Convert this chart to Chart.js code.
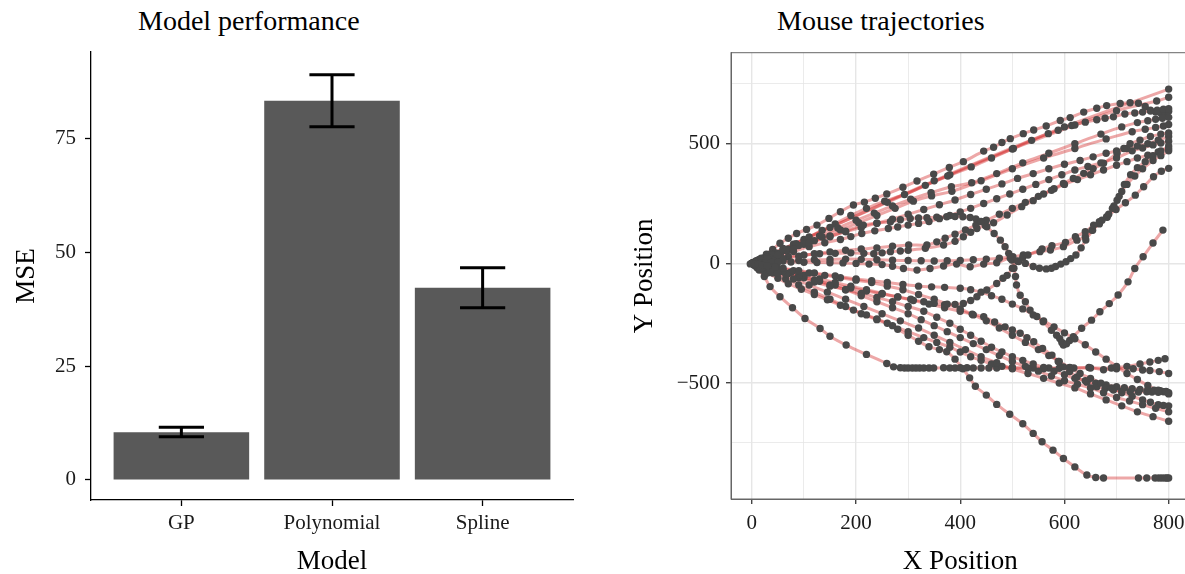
<!DOCTYPE html>
<html>
<head>
<meta charset="utf-8">
<script src="https://cdn.jsdelivr.net/npm/chart.js@4.4.1/dist/chart.umd.min.js"></script>
<style>
  body { margin: 0; width: 1185px; height: 574px; overflow: hidden; background: #fff; position: relative; }
  canvas { position: absolute; top: 0; }
  .ttl { position: absolute; top: 7px; font: 28px "Liberation Serif", serif; line-height: 28px; color: #000; white-space: nowrap; }
</style>
</head>
<body>
<div class="ttl" style="left:138px">Model performance</div>
<div class="ttl" style="left:777px">Mouse trajectories</div>
<canvas id="bars" width="600" height="600" style="left:0"></canvas>
<canvas id="traj" width="600" height="600" style="left:600px"></canvas>
<script>
// ---- left panel data ----
const models = ["GP", "Polynomial", "Spline"];
const mse = [10.5, 83.3, 42.2];
const mseLow = [9.5, 77.6, 37.8];
const mseHigh = [11.6, 89.0, 46.6];
const mseTicks = [0, 25, 50, 75];

// ---- right panel data (x, y pairs) ----
const xTickValues = [0, 100, 200, 300, 400, 500, 600, 700, 800];
const xMajor = [0, 200, 400, 600, 800];
const yTickValues = [-750, -500, -250, 0, 250, 500, 750];
const yMajor = [-500, 0, 500];

const traj01 = [[0,0],[2,3],[4,4],[7,9],[10,12],[14,17],[18,22],[28,38],[40,58],[54,84],[70,105],[86,125],[105,142],[125,160],[148,188],[170,216],[195,244],[216,256],[237,272],[259,290],[290,318],[317,344],[349,373],[379,401],[406,425],[445,469],[464,485],[480,505],[496,521],[521,542],[541,557],[565,574],[592,597],[611,609],[637,632],[662,648],[681,659],[707,668],[726,671],[742,669],[755,655],[765,640],[775,632],[785,628],[793,630],[800,635]];
const traj02 = [[0,0],[5,3],[12,10],[22,22],[35,38],[60,62],[100,100],[350,345],[600,570],[800,728]];
const traj03 = [[0,0],[3,2],[6,5],[14,12],[25,24],[45,44],[80,80],[150,150],[260,255],[380,370],[500,478],[620,578],[700,638],[777,678],[800,694]];
const traj04 = [[0,0],[5,3],[12,9],[25,20],[42,38],[60,55],[85,82],[110,110],[135,138],[160,165],[190,200],[220,230],[255,260],[293,288],[333,326],[376,365],[421,403],[460,440],[502,480],[537,514],[569,542],[588,556],[614,576],[640,590],[662,600],[678,606],[694,612],[716,624],[735,628],[750,632],[765,636],[778,640],[790,644],[800,646]];
const traj05 = [[0,0],[3,2],[6,4],[10,7],[14,10],[22,18],[30,25],[50,42],[70,60],[100,88],[130,115],[165,148],[200,180],[235,210],[270,240],[305,268],[344,295],[383,320],[422,337],[470,375],[520,420],[570,460],[620,500],[670,540],[710,570],[740,588],[760,596],[775,602],[788,606],[800,610]];
const traj06 = [[0,0],[4,3],[8,5],[14,10],[20,14],[30,22],[40,30],[55,42],[70,55],[100,80],[135,110],[170,140],[205,170],[240,200],[275,230],[310,260],[345,282],[384,301],[440,345],[500,395],[560,440],[620,480],[680,520],[730,550],[755,560],[775,568],[790,574],[800,580]];
const traj07 = [[0,0],[3,2],[8,6],[13,11],[20,18],[30,27],[40,35],[65,55],[90,75],[120,95],[150,115],[180,132],[210,150],[240,168],[270,185],[300,205],[330,225],[360,245],[390,265],[420,288],[450,310],[480,332],[510,355],[540,375],[570,395],[600,414],[630,430],[655,445],[680,460],[700,470],[720,480],[740,490],[760,500],[780,515],[800,530]];
const traj08 = [[0,0],[4,2],[10,5],[18,9],[25,12],[35,16],[45,20],[70,28],[100,35],[130,40],[160,42],[190,44],[215,42],[234,40],[250,44],[266,49],[285,52],[300,55],[333,63],[368,77],[390,92],[406,111],[420,130],[432,146],[448,158],[464,170],[490,202],[518,237],[540,262],[560,290],[580,312],[598,334],[617,355],[637,376],[655,396],[675,418],[701,460],[714,480],[726,500],[745,515],[765,530],[785,540],[800,545]];
const traj09 = [[0,0],[4,1],[10,3],[17,5],[25,6],[40,8],[60,10],[90,12],[120,15],[150,16],[180,18],[210,17],[240,15],[270,13],[300,12],[325,11],[350,10],[375,11],[400,12],[425,15],[450,18],[475,22],[501,28],[521,35],[553,49],[573,56],[598,70],[624,97],[640,111],[653,139],[667,165],[681,195],[699,225],[717,253],[736,285],[752,320],[771,362],[786,385],[800,397]];
const traj10 = [[0,0],[3,3],[8,6],[14,10],[20,14],[35,22],[50,30],[80,50],[110,70],[140,86],[170,100],[190,112],[211,125],[236,136],[262,146],[280,152],[300,160],[320,167],[340,175],[360,187],[380,200],[400,215],[420,230],[445,250],[470,270],[495,290],[520,310],[545,330],[570,350],[595,370],[620,390],[645,405],[670,420],[700,440],[730,470],[750,482],[770,495],[785,503],[800,510]];
const traj11 = [[0,0],[5,2],[12,4],[20,7],[30,10],[45,15],[60,20],[90,30],[120,40],[150,48],[180,55],[210,60],[240,65],[270,72],[301,77],[336,77],[355,90],[371,105],[390,122],[410,140],[430,160],[450,180],[475,205],[500,230],[525,255],[550,280],[575,305],[600,330],[625,350],[650,370],[675,390],[700,410],[720,425],[740,440],[760,452],[780,465],[800,480]];
const traj12 = [[0,0],[4,2],[8,5],[18,12],[30,20],[50,35],[80,60],[110,85],[150,111],[180,135],[214,160],[240,168],[266,174],[285,182],[304,188],[320,190],[336,191],[355,193],[374,195],[390,196],[405,195],[419,192],[430,186],[440,175],[451,153],[465,125],[477,97],[486,70],[493,42],[499,14],[503,-20],[506,-55],[508,-90],[515,-133],[525,-160],[534,-195],[547,-222],[559,-244],[575,-279],[585,-300],[591,-314],[595,-330],[598,-341],[604,-336],[610,-322],[617,-306],[633,-271],[652,-237],[668,-202],[686,-168],[703,-132],[722,-77],[735,-21],[751,28],[770,85],[789,139]];
const traj13 = [[0,0],[-3,-2],[4,-1],[10,0],[18,1],[25,2],[37,4],[50,5],[75,6],[100,5],[125,4],[150,3],[175,2],[200,0],[225,-3],[250,-5],[270,-12],[291,-21],[317,-28],[342,-21],[368,-11],[393,-3],[419,-14],[445,-3],[470,3],[496,21],[512,8],[525,0],[540,-13],[552,-20],[565,-23],[575,-20],[583,-13],[593,-3],[603,7],[612,20],[622,35],[632,65],[641,98],[654,138],[667,174],[682,193],[692,230],[701,264],[710,300],[720,330],[735,365],[750,395],[770,430],[785,450],[800,470]];
const traj14 = [[0,0],[4,-2],[10,-5],[17,-10],[25,-15],[40,-25],[55,-34],[70,-42],[100,-60],[130,-75],[160,-90],[190,-103],[220,-115],[250,-128],[280,-140],[305,-150],[330,-160],[350,-167],[370,-172],[390,-171],[406,-167],[420,-155],[432,-139],[451,-111],[470,-84],[482,-62],[490,-50],[500,-20],[510,10],[520,25],[530,35],[557,60],[576,74],[602,88],[621,111],[640,132],[656,160],[672,180],[685,205],[695,240],[705,280],[715,330],[727,370],[740,400],[755,425],[770,450],[785,470],[800,490]];
const traj15 = [[0,0],[3,-4],[6,-10],[10,-18],[14,-28],[24,-55],[35,-97],[54,-139],[78,-185],[102,-230],[131,-272],[150,-304],[181,-341],[220,-380],[259,-418],[272,-432],[285,-436],[293,-437],[300,-437],[308,-437],[315,-437],[322,-437],[330,-437],[340,-437],[349,-437],[368,-436],[380,-437],[390,-437],[400,-436],[413,-436],[425,-437],[440,-437],[455,-437],[470,-437],[500,-438],[540,-437],[570,-437],[610,-436],[650,-437],[690,-437],[720,-430],[745,-420],[764,-412],[780,-405],[793,-398]];
const traj16 = [[0,0],[4,-3],[8,-6],[14,-12],[20,-18],[30,-29],[40,-40],[65,-65],[90,-90],[120,-120],[150,-150],[180,-180],[210,-210],[240,-235],[270,-260],[300,-285],[330,-310],[355,-330],[380,-350],[400,-370],[420,-390],[440,-405],[460,-420],[480,-430],[500,-435],[530,-438],[560,-440],[590,-438],[618,-437],[647,-435],[675,-444],[700,-440],[732,-440],[750,-445],[764,-447],[782,-452],[800,-460]];
const traj17 = [[0,0],[3,-4],[6,-8],[10,-14],[15,-20],[22,-30],[30,-40],[50,-62],[70,-85],[95,-108],[120,-130],[145,-152],[170,-175],[195,-195],[220,-215],[240,-232],[260,-250],[280,-275],[300,-300],[320,-325],[340,-348],[360,-360],[374,-369],[390,-400],[405,-440],[418,-478],[429,-513],[450,-550],[470,-589],[495,-630],[520,-670],[540,-710],[557,-745],[578,-780],[598,-815],[620,-850],[643,-884],[660,-894],[675,-896],[742,-896],[758,-896],[774,-896],[781,-896],[787,-896],[793,-896],[797,-896],[800,-896]];
const traj18 = [[0,0],[4,-2],[10,-5],[17,-8],[25,-12],[37,-18],[50,-25],[75,-37],[100,-50],[130,-65],[160,-80],[190,-95],[220,-110],[250,-125],[280,-140],[310,-155],[340,-170],[370,-185],[400,-200],[423,-212],[445,-223],[466,-245],[486,-265],[500,-278],[515,-292],[528,-310],[541,-327],[558,-355],[576,-383],[588,-410],[598,-432],[610,-452],[624,-474],[643,-496],[662,-515],[678,-523],[694,-529],[710,-533],[726,-536],[742,-537],[758,-536],[768,-537],[780,-538],[790,-536],[796,-537],[800,-540]];
const traj19 = [[0,0],[3,-3],[8,-6],[14,-11],[20,-15],[30,-23],[40,-30],[65,-45],[90,-60],[120,-78],[150,-95],[180,-110],[210,-125],[240,-142],[270,-160],[300,-180],[330,-200],[355,-225],[380,-250],[400,-275],[420,-300],[440,-325],[460,-350],[480,-370],[500,-390],[520,-405],[540,-420],[560,-435],[580,-450],[600,-465],[620,-480],[640,-490],[660,-500],[680,-508],[700,-515],[715,-519],[730,-523],[745,-526],[760,-528],[772,-530],[784,-532],[795,-535]];
const traj20 = [[0,0],[4,-2],[10,-4],[18,-7],[25,-10],[37,-15],[50,-20],[80,-30],[110,-40],[140,-50],[170,-60],[200,-70],[230,-80],[260,-95],[290,-110],[320,-130],[350,-150],[375,-170],[400,-190],[425,-215],[450,-240],[475,-270],[500,-300],[525,-330],[550,-360],[570,-385],[590,-410],[610,-435],[630,-460],[650,-480],[670,-500],[690,-520],[710,-540],[730,-555],[750,-570],[765,-580],[780,-590],[790,-593],[800,-595]];
const traj21 = [[0,0],[5,-3],[10,-6],[20,-10],[30,-15],[45,-22],[60,-30],[90,-50],[120,-70],[150,-90],[180,-110],[210,-135],[240,-160],[270,-185],[300,-210],[325,-235],[350,-260],[375,-285],[400,-310],[425,-335],[450,-360],[475,-385],[500,-410],[525,-430],[550,-450],[575,-470],[600,-490],[625,-505],[650,-520],[675,-540],[700,-560],[725,-575],[750,-590],[775,-605],[800,-620]];
const traj22 = [[0,0],[4,-4],[8,-8],[14,-13],[20,-18],[35,-30],[50,-40],[80,-65],[110,-90],[145,-120],[180,-150],[215,-180],[250,-210],[285,-240],[320,-270],[350,-300],[380,-330],[410,-360],[440,-390],[470,-415],[500,-440],[530,-460],[560,-480],[590,-500],[620,-520],[650,-545],[680,-570],[710,-595],[740,-620],[770,-640],[800,-659]];
const traj23 = [[0,0],[6,-2],[12,-4],[20,-7],[30,-10],[45,-15],[60,-20],[90,-30],[120,-40],[160,-52],[200,-65],[230,-72],[260,-80],[290,-88],[320,-95],[345,-98],[370,-100],[400,-104],[420,-110],[440,-120],[460,-135],[480,-150],[500,-170],[520,-190],[540,-215],[560,-240],[580,-265],[600,-290],[620,-315],[640,-340],[660,-370],[680,-400],[700,-430],[720,-460],[740,-485],[760,-510],[780,-530],[800,-545]];

const trajectories = [traj01, traj02, traj03, traj04, traj05, traj06, traj07, traj08, traj09, traj10, traj11, traj12,
  traj13, traj14, traj15, traj16, traj17, traj18, traj19, traj20, traj21, traj22, traj23];

const serif = "'Liberation Serif', 'Times New Roman', serif";

// error bars drawn through the chart's scales
const errorBars = {
  id: 'errorBars',
  afterDatasetsDraw(chart) {
    const { ctx, scales: { x, y } } = chart;
    ctx.save();
    ctx.strokeStyle = '#000';
    ctx.lineWidth = 3;
    models.forEach((m, i) => {
      const cx = x.getPixelForValue(i + 1);
      const half = x.getPixelForValue(i + 1.15) - cx;
      const top = y.getPixelForValue(mseHigh[i]);
      const bot = y.getPixelForValue(mseLow[i]);
      ctx.beginPath();
      ctx.moveTo(cx, top); ctx.lineTo(cx, bot);
      ctx.moveTo(cx - half, top); ctx.lineTo(cx + half, top);
      ctx.moveTo(cx - half, bot); ctx.lineTo(cx + half, bot);
      ctx.stroke();
    });
    ctx.restore();
  }
};

new Chart(document.getElementById('bars'), {
  type: 'bar',
  data: {
    datasets: [{
      data: models.map((m, i) => ({ x: i + 1, y: mse[i] })),
      backgroundColor: '#595959',
      barPercentage: 0.9,
      categoryPercentage: 1
    }]
  },
  options: {
    responsive: false,
    animation: false,
    layout: { padding: { top: 52, right: 27, left: 0, bottom: 0 } },
    plugins: { legend: { display: false }, tooltip: { enabled: false } },
    scales: {
      x: {
        type: 'linear', min: 0.4, max: 3.6, offset: false,
        afterBuildTicks: s => { s.ticks = models.map((m, i) => ({ value: i + 1 })); },
        afterFit: s => { s.height = 100; },
        ticks: { autoSkip: false, callback: v => models[v - 1], color: '#1a1a1a', padding: 5, font: { family: serif, size: 21 } },
        grid: { drawOnChartArea: false, offset: false, tickLength: 6, tickColor: '#000', tickWidth: 1.3 },
        border: { color: '#000', width: 1.3 },
        title: { display: true, text: 'Model', color: '#000', padding: { bottom: 22 }, font: { family: serif, size: 27 } }
      },
      y: {
        min: -4.4, max: 94,
        afterBuildTicks: s => { s.ticks = mseTicks.map(v => ({ value: v })); },
        afterFit: s => { s.width = 91; },
        ticks: { color: '#1a1a1a', padding: 9, font: { family: serif, size: 21 } },
        grid: { drawOnChartArea: false, tickLength: 6, tickColor: '#000', tickWidth: 1.3 },
        border: { color: '#000', width: 1.3 },
        title: { display: true, text: 'MSE', color: '#000', padding: { top: 11 }, font: { family: serif, size: 27 } }
      }
    }
  },
  plugins: [errorBars]
});

// grey panel border, like theme_bw
const panelBorder = {
  id: 'panelBorder',
  afterDraw(chart) {
    const { ctx, chartArea: a } = chart;
    ctx.save();
    ctx.strokeStyle = '#666';
    ctx.lineWidth = 1;
    ctx.strokeRect(a.left, a.top, a.right - a.left, a.bottom - a.top);
    ctx.restore();
  }
};

const lineSets = trajectories.map(t => ({
  data: t.map(p => ({ x: p[0], y: p[1] })),
  showLine: true,
  borderColor: 'rgba(212, 45, 45, 0.42)',
  borderWidth: 3,
  pointRadius: 0,
  tension: 0.35,
  order: 2
}));

const pointSet = {
  data: trajectories.flat().map(p => ({ x: p[0], y: p[1] })),
  pointRadius: 3.7,
  pointBackgroundColor: '#494949',
  pointBorderWidth: 0,
  showLine: false,
  order: 1
};

const fmt = v => v < 0 ? '\u2212' + Math.abs(v) : String(v);

new Chart(document.getElementById('traj'), {
  type: 'scatter',
  data: { datasets: [...lineSets, pointSet] },
  options: {
    responsive: false,
    animation: false,
    layout: { padding: { top: 52.7, right: 10.5, left: 0, bottom: 0 } },
    plugins: { legend: { display: false }, tooltip: { enabled: false } },
    scales: {
      x: {
        type: 'linear', min: -40, max: 840,
        afterBuildTicks: s => { s.ticks = xTickValues.map(v => ({ value: v })); },
        afterFit: s => { s.height = 101; },
        ticks: { autoSkip: false, maxRotation: 0, callback: v => xMajor.includes(v) ? fmt(v) : '', color: '#1a1a1a', padding: 7, font: { family: serif, size: 21 } },
        grid: {
          color: '#e6e6e6',
          lineWidth: c => xMajor.includes(c.tick.value) ? 1.4 : 0.8,
          tickColor: c => xMajor.includes(c.tick.value) ? '#444' : 'rgba(0,0,0,0)',
          tickLength: 5
        },
        border: { color: '#666', width: 1 },
        title: { display: true, text: 'X Position', color: '#000', padding: { bottom: 22 }, font: { family: serif, size: 27 } }
      },
      y: {
        min: -984, max: 880,
        afterBuildTicks: s => { s.ticks = yTickValues.map(v => ({ value: v })); },
        afterFit: s => { s.width = 131; },
        ticks: { autoSkip: false, callback: v => yMajor.includes(v) ? fmt(v) : '', color: '#1a1a1a', padding: 6, font: { family: serif, size: 21 } },
        grid: {
          color: '#e6e6e6',
          lineWidth: c => yMajor.includes(c.tick.value) ? 1.4 : 0.8,
          tickColor: c => yMajor.includes(c.tick.value) ? '#444' : 'rgba(0,0,0,0)',
          tickLength: 5
        },
        border: { color: '#666', width: 1 },
        title: { display: true, text: 'Y Position', color: '#000', padding: { top: 29 }, font: { family: serif, size: 27 } }
      }
    }
  },
  plugins: [panelBorder]
});
</script>
</body>
</html>
